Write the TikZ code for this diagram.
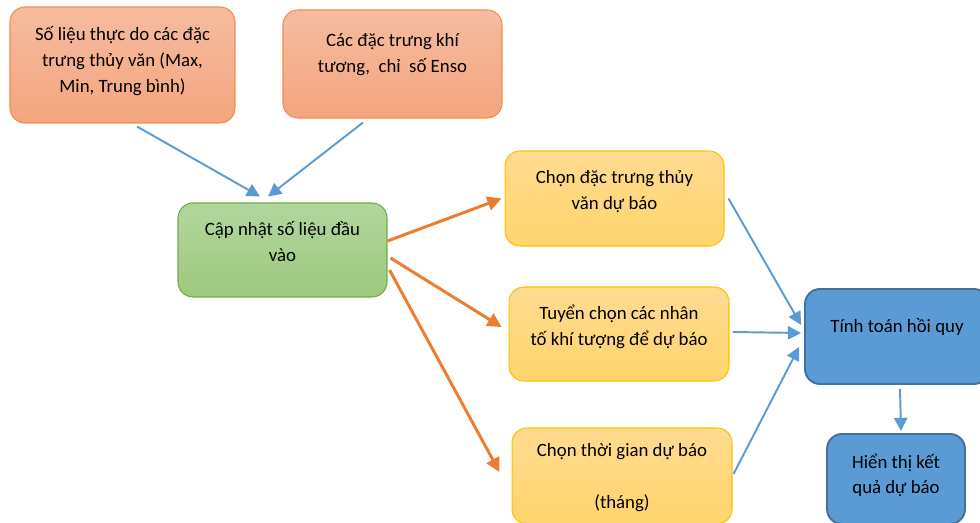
\documentclass[tikz,border=0pt]{standalone}
\usepackage{fontspec}
\setmainfont{Carlito}
\usetikzlibrary{arrows.meta}

\definecolor{orfill}{RGB}{246,188,160}
\definecolor{orfilldark}{RGB}{244,165,126}
\definecolor{orline}{RGB}{240,140,80}
\definecolor{grfill}{RGB}{178,214,158}
\definecolor{grfilldark}{RGB}{157,201,125}
\definecolor{grline}{RGB}{112,173,71}
\definecolor{yefill}{RGB}{255,219,145}
\definecolor{yefilldark}{RGB}{255,213,108}
\definecolor{yeline}{RGB}{255,192,0}
\definecolor{blfill}{RGB}{91,155,213}
\definecolor{blline}{RGB}{65,113,156}
\definecolor{blarrow}{RGB}{91,155,213}
\definecolor{orarrow}{RGB}{237,125,49}

\tikzset{
  box/.style={rounded corners=0.3cm, align=center, text depth=10pt,
    font=\fontsize{10.7}{14.7}\selectfont, line width=0.6pt},
  inbox/.style={box, draw=orline, top color=orfill, bottom color=orfilldark},
  updbox/.style={box, draw=grline, top color=grfill, bottom color=grfilldark},
  selbox/.style={box, draw=yeline, top color=yefill, bottom color=yefilldark},
  calcbox/.style={box, draw=blline, fill=blfill, line width=1.1pt},
  bluearrow/.style={draw=blarrow, line width=1.1pt, -{Triangle[length=7.5pt,width=7.5pt]}},
  orangearrow/.style={draw=orarrow, line width=1.7pt, -{Triangle[length=8pt,width=8pt]}}
}

\begin{document}
\begin{tikzpicture}[x=0.02cm, y=-0.02cm]

    % Page frame
    \useasboundingbox (0,0) rectangle (980,523);
    \clip (0,0) rectangle (980,523);

    % Input data
    \node[inbox, minimum width=4.5cm, minimum height=2.32cm, text depth=6pt] (data) at (122.5,65)
      {Số liệu thực do các đặc\\trưng thủy văn (Max,\\Min, Trung bình)};
    \node[inbox, minimum width=4.38cm, minimum height=2.16cm, text depth=13pt] (meteo) at (392.5,64)
      {Các đặc trưng khí\\tương,~~chỉ~~số Enso};

    % Update step
    \node[updbox, minimum width=4.18cm, minimum height=1.88cm] (update) at (282.5,250)
      {Cập nhật số liệu đầu\\vào};

    % Selection steps
    \node[selbox, minimum width=4.38cm, minimum height=1.9cm] (selvar) at (614.5,198.5)
      {Chọn đặc trưng thủy\\văn dự báo};
    \node[selbox, minimum width=4.4cm, minimum height=1.88cm] (selfac) at (619,334)
      {Tuyển chọn các nhân\\tố khí tượng để dự báo};
    \node[selbox, minimum width=4.4cm, minimum height=1.92cm, text depth=-4.5pt] (seltime) at (622,476)
      {Chọn thời gian dự báo\\[14.7pt](tháng)};

    % Regression and output
    \node[calcbox, minimum width=3.68cm, minimum height=1.9cm, text depth=13pt] (regr) at (897,336.5)
      {Tính toán hồi quy};
    \node[calcbox, minimum width=2.76cm, minimum height=1.8cm, text depth=6pt] (show) at (896,479)
      {Hiển thị kết\\quả dự báo};

    % Inputs to update
    \draw[bluearrow] ([xshift=0.29cm,yshift=-0.06cm]data.south) -- ([xshift=-0.45cm,yshift=0.12cm]update.north);
    \draw[bluearrow] ([xshift=-0.59cm,yshift=-0.08cm]meteo.south) -- ([xshift=-0.29cm,yshift=0.12cm]update.north);

    % Update to selections
    \draw[orangearrow] ([yshift=0.18cm]update.east) -- ([xshift=-0.06cm]selvar.west);
    \draw[orangearrow] ([xshift=0.06cm,yshift=-0.16cm]update.east) -- ([xshift=-0.14cm,yshift=0.14cm]selfac.west);
    \draw[orangearrow] ([xshift=0.04cm,yshift=-0.4cm]update.east) -- ([xshift=-0.24cm,yshift=0.08cm]seltime.west);

    % Selections to regression
    \draw[bluearrow] ([xshift=0.08cm]selvar.east) -- ([xshift=-0.06cm,yshift=0.23cm]regr.west);
    \draw[bluearrow] ([xshift=0.06cm,yshift=0.04cm]selfac.east) -- ([xshift=-0.06cm,yshift=0.07cm]regr.west);
    \draw[bluearrow] ([xshift=0.02cm,yshift=0.04cm]seltime.east) -- ([xshift=-0.1cm,yshift=-0.21cm]regr.west);

    % Regression to output
    \draw[bluearrow] ([xshift=0.06cm,yshift=-0.08cm]regr.south) -- ([xshift=0.1cm,yshift=0.04cm]show.north);
  \end{tikzpicture}
\end{document}
